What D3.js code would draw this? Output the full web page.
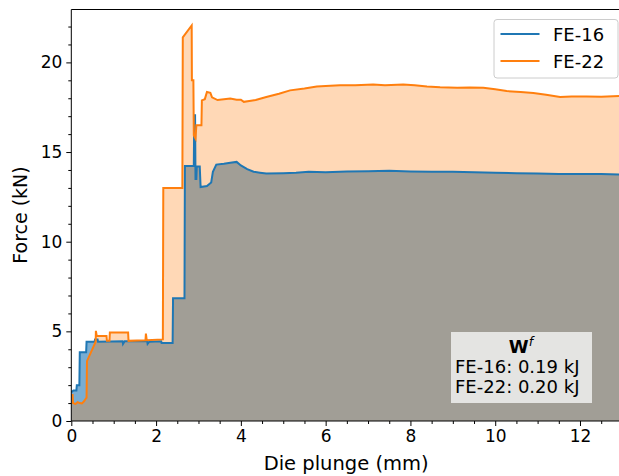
<!DOCTYPE html>
<html><head><meta charset="utf-8">
<script src="https://cdn.jsdelivr.net/npm/d3@7"></script>
<style>
html,body{margin:0;padding:0;background:#fff;}
svg{display:block;font-family:"DejaVu Sans",sans-serif;}
</style></head>
<body>
<svg id="chart" width="619" height="476"></svg>
<script>
// ---- data ----
const seriesNames = ["FE-16", "FE-22"];
const seriesColors = ["#1f77b4", "#ff7f0e"];

const fe16X = [0,0.05,0.12,0.13,0.19,0.2,0.35,0.36,0.55,0.56,0.62,0.63,1.21,1.22,1.26,1.79,1.8,1.84,2.12,2.13,2.39,2.4,2.67,2.68,2.89,2.9,2.92,2.93,2.95,2.96,3.03,3.05,3.2,3.3,3.34,3.42,3.6,3.75,3.9,4.0,4.15,4.3,4.45,4.6,5.0,5.3,5.6,6.0,6.5,7.0,7.5,8.0,8.5,9.0,9.5,10.0,10.5,11.0,11.5,12.0,12.5,12.92];
const fe16Y = [1.6,1.7,1.7,2.0,2.0,3.83,3.83,4.42,4.42,4.55,4.55,4.42,4.45,4.3,4.45,4.45,4.3,4.42,4.45,4.35,4.35,6.85,6.85,14.22,14.22,17.05,17.05,13.5,13.5,14.2,14.2,13.05,13.1,13.3,13.9,14.3,14.35,14.4,14.45,14.25,14.05,13.9,13.85,13.8,13.82,13.85,13.9,13.88,13.92,13.93,13.95,13.92,13.9,13.9,13.88,13.85,13.82,13.8,13.78,13.77,13.78,13.75];

const fe22X = [0,0.03,0.04,0.1,0.15,0.2,0.25,0.3,0.35,0.36,0.37,0.575,0.58,0.6,0.83,0.84,0.9,0.91,1.34,1.35,1.75,1.76,1.78,2.16,2.17,2.62,2.63,2.84,2.845,2.88,2.89,2.93,2.95,3.07,3.08,3.15,3.2,3.28,3.32,3.45,3.6,3.75,3.9,4.0,4.07,4.2,4.35,4.6,4.9,5.16,5.5,5.79,6.0,6.34,6.7,7.12,7.4,7.83,8.1,8.39,8.7,9.1,9.4,9.72,10.0,10.27,10.6,10.9,11.2,11.53,11.8,12.16,12.5,12.92];
const fe22Y = [1.45,1.45,1.0,0.95,1.05,1.0,0.98,1.1,1.28,1.3,3.34,4.42,5.03,4.74,4.74,4.47,4.47,4.94,4.94,4.47,4.5,4.88,4.5,4.55,13.0,13.0,21.4,22.06,19.0,19.0,15.93,15.75,16.49,16.49,17.88,17.95,18.35,18.3,18.05,17.9,17.95,17.98,17.92,17.92,17.8,17.85,17.9,18.07,18.25,18.44,18.55,18.66,18.68,18.72,18.72,18.77,18.72,18.77,18.72,18.66,18.62,18.59,18.6,18.59,18.5,18.4,18.35,18.29,18.2,18.07,18.1,18.1,18.08,18.12];

const xTicks = [0,2,4,6,8,10,12];
const yTicks = [0,5,10,15,20];
const workLabels = ["FE-16: 0.19 kJ", "FE-22: 0.20 kJ"];

// ---- layout ----
const svg = d3.select("#chart");
const L = 71.3, R = 619, T = 9.5, B = 421;
const x = d3.scaleLinear().domain([0, 12.92]).range([L, R]);
const y = d3.scaleLinear().domain([0, 22.95]).range([B, T]);

const fe16 = fe16X.map((v,i)=>[v, fe16Y[i]]);
const fe22 = fe22X.map((v,i)=>[v, fe22Y[i]]);

const area = d3.area().x(d=>x(d[0])).y0(y(0)).y1(d=>y(d[1]));
const line = d3.line().x(d=>x(d[0])).y(d=>y(d[1]));

const g = svg.append("g");
g.append("clipPath").attr("id","clip").append("rect")
  .attr("x",L).attr("y",T).attr("width",R-L).attr("height",B-T);
const plot = g.append("g").attr("clip-path","url(#clip)");

plot.append("path").datum(fe16).attr("d",area)
  .attr("fill",seriesColors[0]).attr("fill-opacity",0.6);
plot.append("path").datum(fe22).attr("d",area)
  .attr("fill",seriesColors[1]).attr("fill-opacity",0.3);
plot.append("path").datum(fe16).attr("d",line)
  .attr("fill","none").attr("stroke",seriesColors[0]).attr("stroke-width",2).attr("stroke-linejoin","miter");
plot.append("path").datum(fe22).attr("d",line)
  .attr("fill","none").attr("stroke",seriesColors[1]).attr("stroke-width",2).attr("stroke-linejoin","miter");

// ---- axes ----
const xAxis = d3.axisBottom(x).tickValues(xTicks).tickFormat(d3.format("d")).tickSize(5).tickPadding(4);
const xMinor = d3.axisBottom(x).tickValues(d3.range(0,13,0.5).filter(v=>v%2!==0)).tickFormat("").tickSize(3);
const yAxis = d3.axisLeft(y).tickValues(yTicks).tickFormat(d3.format("d")).tickSize(5).tickPadding(4);
const yMinor = d3.axisLeft(y).tickValues(d3.range(0,23,1).filter(v=>v%5!==0)).tickFormat("").tickSize(3);

function style(sel){
  sel.selectAll("path.domain").remove();
  sel.selectAll("line").attr("stroke","#000").attr("stroke-width",1);
  sel.selectAll("text").attr("fill","#000").style("font-size","17px").style("font-family","DejaVu Sans");
}
g.append("g").attr("transform",`translate(0,${B})`).call(xAxis).call(style);
g.append("g").attr("transform",`translate(0,${B})`).call(xMinor).call(style);
g.append("g").attr("transform",`translate(${L},0)`).call(yAxis).call(style);
g.append("g").attr("transform",`translate(${L},0)`).call(yMinor).call(style);

// spines
g.append("line").attr("x1",L).attr("x2",L).attr("y1",T).attr("y2",B).attr("stroke","#000").attr("stroke-width",1);
g.append("line").attr("x1",L).attr("x2",R).attr("y1",B).attr("y2",B).attr("stroke","#000").attr("stroke-width",1);
g.append("line").attr("x1",L).attr("x2",R).attr("y1",T).attr("y2",T).attr("stroke","#000").attr("stroke-width",1);

// axis labels
svg.append("text").attr("x",(L+R)/2 + 1).attr("y",470).attr("text-anchor","middle")
  .style("font-size","19.5px").text("Die plunge (mm)");
svg.append("text").attr("transform",`translate(27,215) rotate(-90)`).attr("text-anchor","middle")
  .style("font-size","19px").text("Force (kN)");

// legend
const lg = svg.append("g");
lg.append("rect").attr("x",494).attr("y",19.5).attr("width",124).attr("height",58.5).attr("rx",3)
  .attr("fill","#fff").attr("fill-opacity",0.8).attr("stroke","#cccccc").attr("stroke-width",1);
seriesNames.forEach((n,i)=>{
  const yy = 34 + i*27;
  lg.append("line").attr("x1",500.5).attr("x2",539.5).attr("y1",yy).attr("y2",yy)
    .attr("stroke",seriesColors[i]).attr("stroke-width",2);
  lg.append("text").attr("x",553).attr("y",yy+6.5).style("font-size","18px").text(n);
});

// work box
const wb = svg.append("g");
wb.append("rect").attr("x",451).attr("y",332).attr("width",141).attr("height",71)
  .attr("fill","#e4e4e2");
const wt = wb.append("text").attr("x",521).attr("y",353).attr("text-anchor","middle").style("font-size","18px");
wt.append("tspan").style("font-weight","bold").text("W");
wt.append("tspan").attr("dy",-7).style("font-size","12.5px").style("font-style","italic").text("f");
workLabels.forEach((t,i)=>{
  wb.append("text").attr("x",455).attr("y",372.5+i*20).style("font-size","18px").text(t);
});
</script>
</body></html>
